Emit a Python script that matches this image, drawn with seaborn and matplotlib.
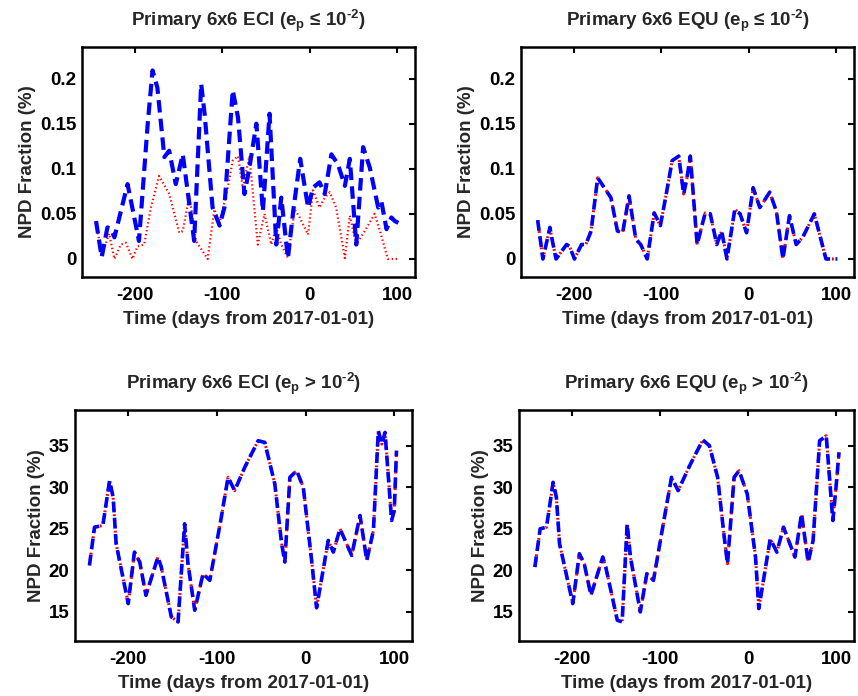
import seaborn as sns
import matplotlib
matplotlib.use("Agg")
import matplotlib.pyplot as plt
from matplotlib.ticker import FormatStrFormatter


# ---- data (days from 2017-01-01, NPD fraction %) ----

# top left: ECI, e_p <= 1e-2
eci_lo_blue_t = [-244, -237.5, -231, -227, -223, -208, -195, -185, -179.5, -174, -166, -160.5,
                 -153, -145, -132, -124, -120, -111, -103, -97.5, -88, -82, -74.6, -69, -61,
                 -53.6, -46, -38.3, -32.6, -25, -19, -11, -2, 3.6, 11, 17, 24.6, 32, 40, 45.6,
                 53, 60.8, 68.5, 78, 81.8, 87.5, 93, 97, 101]
eci_lo_blue_v = [0.042, 0.002, 0.035, 0.033, 0.024, 0.083, 0.020, 0.150, 0.209, 0.190, 0.113, 0.120,
                 0.083, 0.116, 0.020, 0.194, 0.160, 0.057, 0.037, 0.057, 0.187, 0.157, 0.072, 0.101, 0.150,
                 0.053, 0.161, 0.016, 0.068, 0.001, 0.053, 0.111, 0.057, 0.079, 0.085, 0.072, 0.116, 0.105, 0.081, 0.111,
                 0.016, 0.124, 0.101, 0.057, 0.063, 0.033, 0.046, 0.042, 0.040]

eci_lo_red_t = [-244, -237.5, -229, -223, -215.7, -210, -202.4, -196.7, -189, -181.4, -172, -160.4,
                -149, -145, -137.5, -130, -116.6, -109, -103, -93.7, -88, -82, -76.5, -69, -59.4,
                -51.7, -44, -38.3, -32.6, -25, -17.4, -11.6, -2, 3.6, 11, 17, 22.7, 30, 40, 45.6,
                53, 62.7, 74, 80, 89, 101]
eci_lo_red_v = [0.042, 0.004, 0.028, 0.000, 0.016, 0.018, 0.000, 0.014, 0.016, 0.057, 0.092, 0.072,
                0.029, 0.031, 0.070, 0.020, 0.000, 0.055, 0.040, 0.079, 0.109, 0.114, 0.079, 0.114, 0.016,
                0.050, 0.016, 0.035, 0.016, 0.001, 0.055, 0.046, 0.027, 0.076, 0.057, 0.068, 0.074, 0.057, 0.001, 0.048,
                0.016, 0.031, 0.050, 0.031, 0.000, 0.000]

# top right: EQU, e_p <= 1e-2 (both series coincide)
equ_lo_t = [-241, -235, -227, -225, -220, -208, -204.6, -199, -191, -186, -180, -172.5, -165,
            -157.4, -150, -144, -136.7, -129, -123.4, -116, -108, -101, -95, -87.5, -80, -74.4,
            -70.6, -66.8, -59, -49.8, -44, -36.6, -31, -25, -16, -10, -2.6, 4.9, 12.5, 23.8,
            31.4, 38.9, 46.4, 54, 61.5, 74.7, 88, 101]
equ_lo_v = [0.043, 0.000, 0.035, 0.024, 0.000, 0.016, 0.014, 0.000, 0.016, 0.016, 0.031, 0.090, 0.079,
            0.068, 0.031, 0.029, 0.070, 0.022, 0.016, 0.000, 0.051, 0.037, 0.068, 0.109, 0.114, 0.072,
            0.090, 0.114, 0.016, 0.051, 0.050, 0.016, 0.031, 0.000, 0.055, 0.050, 0.029, 0.079, 0.057, 0.074,
            0.053, 0.000, 0.048, 0.016, 0.024, 0.050, 0.000, 0.000]

# bottom left: ECI, e_p > 1e-2
eci_hi_t = [-243.7, -238, -228.6, -221, -217, -213.6, -200, -193, -187, -180, -166.5, -162.7,
            -151.4, -143.8, -136.4, -132.6, -125, -115.6, -108, -95, -87.4, -80, -68.6, -53.5,
            -46, -34.7, -27, -23.4, -17.7, -10, -2.6, 6.8, 12.4, 25.6, 31.3, 38.8, 52, 61.4,
            69, 76.5, 82, 86, 89.6, 97, 100, 102.5]
eci_hi_v = [20.6, 25.2, 25.4, 30.8, 28.8, 23.2, 16.0, 22.2, 21.0, 17.0, 21.6, 20.4,
            14.4, 13.8, 25.6, 20.8, 15.2, 19.6, 18.8, 26.4, 31.2, 29.6, 32.4, 35.6,
            35.4, 30.4, 23.2, 21.0, 31.2, 32.0, 30.0, 21.2, 15.5, 23.6, 22.2, 25.0, 21.8, 26.6,
            21.2, 24.8, 36.8, 35.2, 36.6, 26.0, 27.2, 34.4]

# bottom right: EQU, e_p > 1e-2
equ_hi_t = [-242, -236, -228.8, -221.3, -217.6, -214, -199, -191.5, -186, -178.4, -165, -161.6,
            -148.5, -143, -137.3, -133.6, -122.4, -115, -107.5, -96.3, -87, -79.5, -66.4, -51.5,
            -44, -34.7, -27.2, -23.5, -16, -10.4, -1.1, 8.3, 12, 25, 32.5, 40, 53, 60.5,
            68, 73.6, 81, 88.5, 96, 99.6, 103]
equ_hi_v = [20.4, 25.0, 25.2, 30.6, 28.8, 23.2, 16.0, 22.0, 20.8, 17.0, 21.6, 20.4,
            14.0, 13.8, 25.6, 21.6, 15.0, 19.6, 18.8, 25.6, 31.2, 29.6, 32.6, 35.7,
            35.0, 31.2, 24.0, 20.8, 31.2, 32.0, 29.2, 21.6, 15.4, 23.8, 22.2, 25.2, 21.6, 26.8,
            21.0, 23.6, 35.6, 36.2, 26.0, 30.0, 34.2]

titles = ["Primary 6x6 ECI (e$_p$ \u2264 10$^{\\text{-}2}$)",
          "Primary 6x6 EQU (e$_p$ \u2264 10$^{\\text{-}2}$)",
          "Primary 6x6 ECI (e$_p$ > 10$^{\\text{-}2}$)",
          "Primary 6x6 EQU (e$_p$ > 10$^{\\text{-}2}$)"]

# ---- style ----
sns.set_theme(style="white")
plt.rcParams["font.family"] = ["Liberation Sans", "DejaVu Sans"]
plt.rcParams["font.weight"] = "bold"
plt.rcParams["axes.unicode_minus"] = False
plt.rcParams["mathtext.fontset"] = "custom"
plt.rcParams["mathtext.rm"] = "Liberation Sans:bold"
plt.rcParams["mathtext.bf"] = "Liberation Sans:bold"
plt.rcParams["mathtext.it"] = "Liberation Sans:bold"
plt.rcParams["mathtext.default"] = "bf"

FS = 13.5
W, H = 858, 696
fig = plt.figure(figsize=(W / 100, H / 100), dpi=100)


def box(l, t, r, b):
    # pixel box -> figure fraction
    return [l / W, 1 - b / H, (r - l) / W, (b - t) / H]


axes = [fig.add_axes(box(82, 47, 415, 277)),
        fig.add_axes(box(521, 47, 854, 277)),
        fig.add_axes(box(75, 410, 412, 641)),
        fig.add_axes(box(519, 410, 854, 641))]

series = [
    [(eci_lo_red_t, eci_lo_red_v, "red", ":", 1.6), (eci_lo_blue_t, eci_lo_blue_v, "blue", "--", 3.0)],
    [(equ_lo_t, equ_lo_v, "red", ":", 2.2), (equ_lo_t, equ_lo_v, "blue", "--", 2.6)],
    [(eci_hi_t, eci_hi_v, "red", ":", 2.2), (eci_hi_t, eci_hi_v, "blue", "--", 2.6)],
    [(equ_hi_t, equ_hi_v, "red", ":", 2.2), (equ_hi_t, equ_hi_v, "blue", "--", 2.6)],
]

for i, ax in enumerate(axes):
    for t, v, c, ls, lw in series[i]:
        sns.lineplot(x=t, y=v, ax=ax, color=c, linestyle=ls, linewidth=lw)
        ax.lines[-1].set_dashes([3.0, 1.5] if ls == "--" else [0.6, 1.2])
    ax.set_xlim(-260, 120)
    ax.set_xticks([-200, -100, 0, 100])
    if i < 2:
        ax.set_ylim(-0.02, 0.235)
        ax.set_yticks([0, 0.05, 0.1, 0.15, 0.2])
        ax.yaxis.set_major_formatter(FormatStrFormatter("%g"))
    else:
        ax.set_ylim(11.5, 39.3)
        ax.set_yticks([15, 20, 25, 30, 35])
    for s in ax.spines.values():
        s.set_linewidth(1.8)
        s.set_color("black")
    ax.tick_params(direction="in", length=4, width=1.5, top=True, right=True,
                   labelsize=FS, colors="black", pad=4)
    ax.tick_params(axis="x", pad=7)
    ax.set_title(titles[i], fontsize=FS, fontweight="bold", pad=15)
    ax.set_xlabel("Time (days from 2017-01-01)", fontsize=FS, fontweight="bold", labelpad=5)
    ax.set_ylabel("NPD Fraction (%)", fontsize=FS, fontweight="bold", labelpad=3)

plt.savefig("out.png", dpi=100)
plt.close("all")
